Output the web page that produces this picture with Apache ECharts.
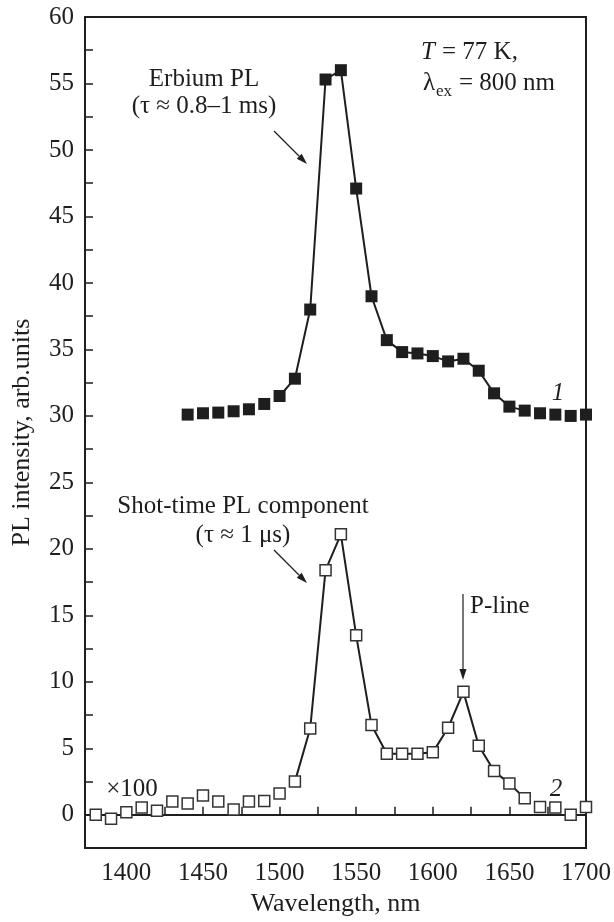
<!DOCTYPE html>
<html>
<head>
<meta charset="utf-8">
<script src="https://cdn.jsdelivr.net/npm/echarts@6/dist/echarts.min.js"></script>
<style>
  html, body { margin: 0; padding: 0; background: #fff; }
  #chart { width: 614px; height: 922px; }
</style>
</head>
<body>
<div id="chart"></div>
<script>
// curve 1: erbium PL (filled squares)
var wl1 = [1440, 1450, 1460, 1470, 1480, 1490, 1500, 1510, 1520, 1530, 1540, 1550, 1560, 1570,
  1580, 1590, 1600, 1610, 1620, 1630, 1640, 1650, 1660, 1670, 1680, 1690, 1700];
var pl1 = [30.1, 30.2, 30.25, 30.35, 30.5, 30.9, 31.5, 32.8, 38.0, 55.3, 56.0, 47.1, 39.0, 35.7,
  34.8, 34.7, 34.5, 34.1, 34.3, 33.4, 31.7, 30.7, 30.4, 30.2, 30.1, 30.0, 30.1];

// curve 2: short-time component x100 (open squares)
var wl2 = [1380, 1390, 1400, 1410, 1420, 1430, 1440, 1450, 1460, 1470, 1480, 1490, 1500, 1510,
  1520, 1530, 1540, 1550, 1560, 1570, 1580, 1590, 1600, 1610, 1620, 1630, 1640, 1650, 1660,
  1670, 1680, 1690, 1700];
var pl2 = [0.0, -0.3, 0.2, 0.55, 0.3, 1.0, 0.85, 1.45, 1.0, 0.4, 1.0, 1.05, 1.6, 2.5,
  6.5, 18.4, 21.1, 13.5, 6.75, 4.6, 4.6, 4.6, 4.7, 6.55, 9.25, 5.2, 3.3, 2.35, 1.25,
  0.6, 0.55, 0.0, 0.6];

// ticks
var xTicks = [1400, 1425, 1450, 1475, 1500, 1525, 1550, 1575, 1600, 1625, 1650, 1675, 1700];
var xLabels = [1400, 1450, 1500, 1550, 1600, 1650, 1700];
var yTicks = [0, 2.5, 5, 7.5, 10, 12.5, 15, 17.5, 20, 22.5, 25, 27.5, 30, 32.5, 35, 37.5,
  40, 42.5, 45, 47.5, 50, 52.5, 55, 57.5, 60];
var yLabels = [0, 5, 10, 15, 20, 25, 30, 35, 40, 45, 50, 55, 60];

// parts of the curves that are joined by a line
var line1 = [1500, 1660];
var line2 = [1510, 1660];

var FONT = '"Liberation Serif", "DejaVu Serif", serif';
var INK = '#1e1e1e';

function pairs(xs, ys, range) {
  var out = [];
  xs.forEach(function (x, i) {
    if (!range || (x >= range[0] && x <= range[1])) out.push([x, ys[i]]);
  });
  return out;
}

function arrow(x1, y1, x2, y2) {
  var a = Math.atan2(y2 - y1, x2 - x1), L = 11, W = 3.5;
  var bx = x2 - L * Math.cos(a), by = y2 - L * Math.sin(a);
  var nx = -Math.sin(a), ny = Math.cos(a);
  return [
    { type: 'line', shape: { x1: x1, y1: y1, x2: bx, y2: by }, style: { stroke: INK, lineWidth: 1.2 } },
    { type: 'polygon', shape: { points: [[x2, y2], [bx + nx * W, by + ny * W], [bx - nx * W, by - ny * W]] }, style: { fill: INK } }
  ];
}

function txt(x, y, s, opt) {
  opt = opt || {};
  return {
    type: 'text', x: x, y: y, z: 10,
    style: {
      text: s, fill: INK, font: (opt.italic ? 'italic ' : '') + (opt.size || 25) + 'px ' + FONT,
      align: opt.align || 'center', verticalAlign: 'middle'
    }
  };
}

var chart = echarts.init(document.getElementById('chart'));

var graphics = [
  txt(204, 79, 'Erbium PL'),
  txt(204, 106, '(τ ≈ 0.8–1 ms)'),
  txt(243, 506, 'Shot-time PL component'),
  txt(243, 535, '(τ ≈ 1 μs)'),
  txt(470, 606, 'P-line', { align: 'left' }),
  txt(132, 789, '×100'),
  txt(558, 393, '1', { italic: true }),
  txt(556, 789, '2', { italic: true }),
  txt(421, 52, 'T', { italic: true, align: 'left' }),
  txt(442, 52, '= 77 K,', { align: 'left' }),
  txt(423, 83, 'λ', { align: 'left' }),
  txt(436, 92, 'ex', { align: 'left', size: 17 }),
  txt(459, 83, '= 800 nm', { align: 'left' })
].concat(arrow(274, 131, 307, 164))
 .concat(arrow(274, 550, 307, 583))
 .concat(arrow(463, 594, 463, 680));

chart.setOption({
  animation: false,
  backgroundColor: '#fff',
  textStyle: { fontFamily: FONT },
  grid: {
    left: 85, right: 27, top: 17, bottom: 70,
    show: true, borderColor: INK, borderWidth: 2
  },
  xAxis: {
    type: 'value',
    min: 1373, max: 1700,
    name: 'Wavelength, nm',
    nameLocation: 'middle',
    nameGap: 41,
    nameTextStyle: { fontSize: 26, color: INK, fontFamily: FONT },
    splitLine: { show: false },
    axisLine: { lineStyle: { color: INK, width: 2 } },
    axisTick: { inside: true, length: 8, customValues: xTicks, lineStyle: { color: INK, width: 1.5 } },
    axisLabel: {
      customValues: xLabels, fontSize: 25, color: INK, fontFamily: FONT, margin: 13,
      formatter: function (v) { return String(v); }
    }
  },
  yAxis: {
    type: 'value',
    min: -2.5, max: 60,
    name: 'PL intensity, arb.units',
    nameLocation: 'middle',
    nameGap: 50,
    nameTextStyle: { fontSize: 26, color: INK, fontFamily: FONT },
    splitLine: { show: false },
    axisLine: { show: true, lineStyle: { color: INK, width: 2 } },
    axisTick: { show: true, inside: true, length: 8, customValues: yTicks, lineStyle: { color: INK, width: 1.5 } },
    axisLabel: {
      customValues: yLabels, fontSize: 25, color: INK, fontFamily: FONT, margin: 11,
      formatter: function (v) { return String(v); }
    }
  },
  series: [
    {
      type: 'line', data: pairs(wl1, pl1, line1), showSymbol: false, symbol: 'none',
      lineStyle: { color: INK, width: 2 }, z: 2, silent: true
    },
    {
      type: 'line', data: pairs(wl2, pl2, line2), showSymbol: false, symbol: 'none',
      lineStyle: { color: INK, width: 2 }, z: 2, silent: true
    },
    {
      type: 'scatter', data: pairs(wl1, pl1), symbol: 'rect', symbolSize: 12,
      itemStyle: { color: INK, opacity: 1 }, z: 3
    },
    {
      type: 'scatter', data: pairs(wl2, pl2), symbol: 'rect', symbolSize: 11,
      itemStyle: { color: '#fff', borderColor: '#333', borderWidth: 1.5, opacity: 1 }, z: 3
    }
  ],
  graphic: graphics
});
</script>
</body>
</html>
